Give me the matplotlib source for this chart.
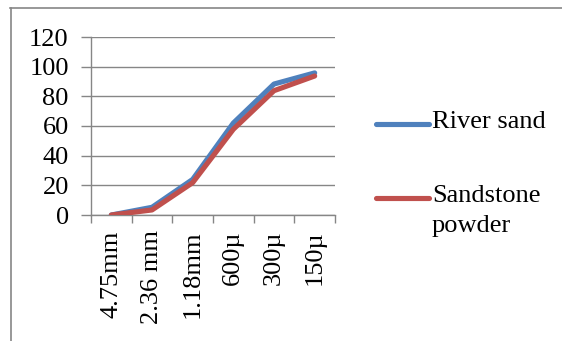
import matplotlib
matplotlib.use("Agg")
import matplotlib.pyplot as plt
from matplotlib.lines import Line2D

categories = ["4.75mm", "2.36 mm", "1.18mm", "600µ", "300µ", "150µ"]
river_sand = [0, 5.2, 24, 62, 88.3, 95.8]
sandstone_powder = [0, 3.4, 21.8, 57.8, 83.8, 93.7]
series_names = ["River sand", "Sandstone\npowder"]
colors = ["#4F81BD", "#C0504D"]

plt.rcParams['font.family'] = ['Liberation Serif', 'DejaVu Serif']

W, H = 562, 341
FS = 19
fig = plt.figure(figsize=(W/100, H/100), dpi=100)
ax = fig.add_axes([91/W, 1-215/H, (335-91)/W, (215-37)/H])

x = list(range(len(categories)))
ax.plot(x, river_sand, color=colors[0], lw=3.7, solid_capstyle='round', solid_joinstyle='round', zorder=3)
ax.plot(x, sandstone_powder, color=colors[1], lw=3.7, solid_capstyle='round', solid_joinstyle='round', zorder=4)

ax.set_xlim(-0.5, len(categories)-0.5)
ax.set_ylim(0, 120)
ax.set_yticks(range(0, 121, 20))
ax.set_yticklabels([str(v) for v in range(0, 121, 20)], fontsize=FS)
ax.set_xticks(x)
ax.set_xticklabels(categories, rotation=90, fontsize=FS, va='top', ha='center')
ax.set_xticks([i - 0.5 for i in range(len(categories)+1)], minor=True)
ax.tick_params(axis='x', which='major', length=0, pad=11)
ax.tick_params(axis='x', which='minor', length=6, color='#868686', width=1)
ax.tick_params(axis='y', length=7, color='#868686', width=1, pad=9)
ax.grid(axis='y', color='#868686', lw=1)
ax.set_axisbelow(True)
for s in ['top', 'right']:
    ax.spines[s].set_visible(False)
for s in ['left', 'bottom']:
    ax.spines[s].set_color('#868686')
    ax.spines[s].set_linewidth(1)

# outer chart border (top and left visible)
fig.add_artist(Line2D([10/W, 1], [1-7.5/H, 1-7.5/H], transform=fig.transFigure, color='#868686', lw=1.2))
fig.add_artist(Line2D([10.5/W, 10.5/W], [0, 1-7.5/H], transform=fig.transFigure, color='#868686', lw=1.2))

# legend
leg_y = [124, 198]
for name, c, yy in zip(series_names, colors, leg_y):
    fig.add_artist(Line2D([376/W, 429/W], [1-yy/H, 1-yy/H], transform=fig.transFigure,
                          color=c, lw=3.7, solid_capstyle='round'))
    fig.text(432/W, 1-(yy-13)/H, name, fontsize=FS, va='top', ha='left', linespacing=1.45)

fig.savefig("out.png", dpi=100)
